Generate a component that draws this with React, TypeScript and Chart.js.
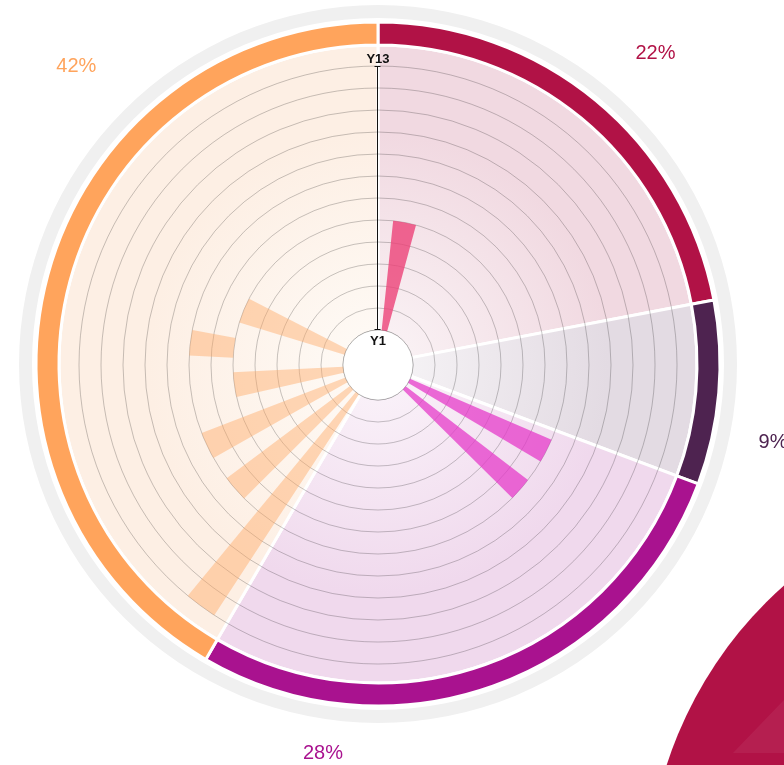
import React, { useEffect, useRef } from 'react';
import { Chart, registerables } from 'chart.js';

Chart.register(...registerables);

// ---------------- data ----------------
// sectors (groups)
const groupShares = [22, 8.7, 27.7, 41.6];
const groupRingColors = ['#b11246', '#4e2350', '#a9128f', '#ffa45c'];
const groupFillColors = ['#f1d9e1', '#e3dbe3', '#f0d9ed', '#fdefe4'];
const groupBarColors = [
  'rgba(236, 62, 117, 0.78)',
  'rgba(110, 40, 110, 0.6)',
  'rgba(228, 52, 200, 0.72)',
  'rgba(255, 164, 92, 0.42)',
];

// radial (year) axis
const yearTicks = [1, 2, 3, 4, 5, 6, 7, 8, 9, 10, 11, 12, 13];
const yearTickLabels = ['Y1', 'Y2', 'Y3', 'Y4', 'Y5', 'Y6', 'Y7', 'Y8', 'Y9', 'Y10', 'Y11', 'Y12', 'Y13'];

// bars: group, angular span (degrees clockwise from top), start / end year
const barGroup = [0, 2, 2, 3, 3, 3, 3, 3, 3];
const barAngleStart = [6, 113.3, 127.5, 213.2, 225.1, 240.5, 257.3, 272.9, 287];
const barAngleEnd = [15.2, 120.7, 134.7, 219.5, 233.2, 248.9, 267.1, 280.7, 297.2];
const barStartYear = [1, 1, 1, 1, 1, 1, 1, 6, 1];
const barEndYear = [6, 8, 8, 13, 8, 8, 6, 8, 6];

// ---------------- layout ----------------
const W = 784;
const H = 765;
const HOLE = 35; // px radius of Y1
const STEP = 22; // px per year
const DRAW_R = 330; // radial scale drawing area
const POLAR_CY = 365;
const RING_CY = 364;
const RING_OUTER = 359;
const RING_INNER = 30;
const R_MIN = yearTicks[0] - HOLE / STEP;
const R_MAX = R_MIN + DRAW_R / STEP;
const GRID_COLOR = 'rgba(0,0,0,0.22)';

type Slice = { angle: number; value: number; color: string; from: number | null };
const slices: Slice[] = [];
{
  let prev = 0;
  barAngleStart.forEach((s, i) => {
    if (s > prev) slices.push({ angle: s - prev, value: R_MIN, color: 'rgba(0,0,0,0)', from: null });
    slices.push({
      angle: barAngleEnd[i] - s,
      value: barEndYear[i],
      color: groupBarColors[barGroup[i]],
      from: barStartYear[i],
    });
    prev = barAngleEnd[i];
  });
  if (prev < 360) slices.push({ angle: 360 - prev, value: R_MIN, color: 'rgba(0,0,0,0)', from: null });
}

function mixWhite(hex: string, t: number) {
  const n = parseInt(hex.slice(1), 16);
  const r = (n >> 16) & 255, g = (n >> 8) & 255, b = n & 255;
  const m = (c: number) => Math.round(c + (255 - c) * t);
  return `rgb(${m(r)},${m(g)},${m(b)})`;
}

const fillGradient = (ctx: any) => {
  const chart = ctx.chart;
  const a = chart.chartArea;
  const base = groupFillColors[ctx.dataIndex] || groupFillColors[0];
  if (!a) return base;
  const cx = (a.left + a.right) / 2;
  const cy = (a.top + a.bottom) / 2;
  const g = chart.ctx.createRadialGradient(cx, cy, 36, cx, cy, 230);
  g.addColorStop(0, mixWhite(base, 0.6));
  g.addColorStop(1, base);
  return g;
};

const decorPlugin = {
  id: 'decor',
  beforeDraw(chart: any) {
    const c = chart.ctx;
    c.save();
    c.fillStyle = '#b11246';
    c.beginPath();
    c.arc(1054, 890, 407, 0, Math.PI * 2);
    c.fill();
    c.fillStyle = 'rgba(255,255,255,0.06)';
    c.beginPath();
    c.moveTo(784, 700);
    c.lineTo(733, 753);
    c.lineTo(784, 753);
    c.closePath();
    c.fill();
    c.restore();
  },
};

const labelOffsets = [
  [277.5, -311],
  [395, 78],
  [-55, 389.5],
  [-301.7, -297.7],
];

const pctLabelPlugin = {
  id: 'pctLabels',
  afterDraw(chart: any) {
    const el = chart.getDatasetMeta(2).data[0];
    if (!el) return;
    const c = chart.ctx;
    c.save();
    c.font = '20px "Liberation Sans", Arial, sans-serif';
    c.textAlign = 'center';
    c.textBaseline = 'middle';
    groupShares.forEach((s, i) => {
      c.fillStyle = groupRingColors[i];
      c.fillText(`${Math.round(s)}%`, el.x + labelOffsets[i][0], el.y + labelOffsets[i][1]);
    });
    c.restore();
  },
};

const floatPlugin = {
  id: 'floatBars',
  afterDatasetUpdate(chart: any, args: any) {
    const scale = chart.scales.r;
    args.meta.data.forEach((el: any, i: number) => {
      const f = slices[i] && slices[i].from;
      if (f != null && f > yearTicks[0]) el.innerRadius = scale.getDistanceFromCenterForValue(f);
    });
  },
};

const axisPlugin = {
  id: 'yearAxis',
  afterDatasetsDraw(chart: any) {
    const s = chart.scales.r;
    const c = chart.ctx;
    const cx = s.xCenter;
    const cy = s.yCenter;
    const first = yearTicks[0];
    const last = yearTicks[yearTicks.length - 1];
    const r1 = s.getDistanceFromCenterForValue(first);
    const rN = s.getDistanceFromCenterForValue(last);
    c.save();
    c.beginPath();
    c.arc(cx, cy, r1, 0, Math.PI * 2);
    c.fillStyle = '#ffffff';
    c.fill();
    c.strokeStyle = GRID_COLOR;
    c.lineWidth = 1;
    c.stroke();

    const x = cx - 0.5;
    c.strokeStyle = '#111';
    c.lineWidth = 1;
    c.beginPath();
    c.moveTo(x, cy - r1);
    c.lineTo(x, cy - rN);
    c.moveTo(x - 3, Math.round(cy - rN) + 0.5);
    c.lineTo(x + 3, Math.round(cy - rN) + 0.5);
    c.moveTo(x - 3, Math.round(cy - r1) - 0.5);
    c.lineTo(x + 3, Math.round(cy - r1) - 0.5);
    c.stroke();

    c.fillStyle = '#111';
    c.font = 'bold 13px "Liberation Sans", Arial, sans-serif';
    c.textAlign = 'center';
    c.textBaseline = 'alphabetic';
    c.fillText(yearTickLabels[yearTickLabels.length - 1], cx, cy - rN - 3);
    c.textBaseline = 'top';
    c.fillText(yearTickLabels[0], cx, cy - r1 + 5);
    c.restore();
  },
};

export default function App() {
  const bgRef = useRef<HTMLCanvasElement | null>(null);
  const fgRef = useRef<HTMLCanvasElement | null>(null);

  useEffect(() => {
    if (!bgRef.current || !fgRef.current) return;
    const ring = new Chart(bgRef.current, {
      type: 'doughnut',
      data: {
        labels: groupShares.map((s) => `${Math.round(s)}%`),
        datasets: [
          { data: [100], backgroundColor: ['#f0f0f0'], borderWidth: 0, weight: 13 } as any,
          { data: [100], backgroundColor: ['rgba(0,0,0,0)'], borderWidth: 0, weight: 4 } as any,
          { data: groupShares, backgroundColor: groupRingColors, borderColor: '#ffffff', borderWidth: 3, weight: 23 } as any,
          { data: groupShares, backgroundColor: fillGradient, borderColor: '#ffffff', borderWidth: 3, weight: 289 } as any,
        ],
      },
      options: {
        responsive: false,
        animation: false,
        events: [],
        radius: RING_OUTER,
        cutout: `${(RING_INNER / RING_OUTER) * 100}%`,
        layout: { padding: { left: 0, top: 0, right: W - 756, bottom: H - 2 * RING_CY } },
        plugins: { legend: { display: false }, tooltip: { enabled: false } },
      } as any,
      plugins: [decorPlugin, pctLabelPlugin],
    });

    const polar = new Chart(fgRef.current, {
      type: 'polarArea',
      data: {
        labels: slices.map((_, i) => `s${i}`),
        datasets: [
          {
            data: slices.map((s) => s.value),
            backgroundColor: slices.map((s) => s.color),
            borderWidth: 0,
            angle: (ctx: any) => slices[ctx.dataIndex].angle,
          } as any,
        ],
      },
      options: {
        responsive: false,
        animation: false,
        events: [],
        layout: {
          padding: {
            left: 48,
            top: POLAR_CY - DRAW_R,
            right: W - 48 - 2 * DRAW_R,
            bottom: H - (POLAR_CY - DRAW_R) - 2 * DRAW_R,
          },
        },
        scales: {
          r: {
            min: R_MIN,
            max: R_MAX,
            startAngle: 0,
            angleLines: { display: false },
            pointLabels: { display: false },
            ticks: { display: false },
            grid: { circular: true, color: GRID_COLOR, lineWidth: 1 },
            afterBuildTicks: (scale: any) => {
              scale.ticks = yearTicks.map((v) => ({ value: v }));
            },
          },
        },
        plugins: { legend: { display: false }, tooltip: { enabled: false } },
      } as any,
      plugins: [floatPlugin, axisPlugin],
    });

    return () => {
      ring.destroy();
      polar.destroy();
    };
  }, []);

  return (
    <div style={{ position: 'fixed', left: 0, top: 0, width: W, height: H, overflow: 'hidden', background: '#fff' }}>
      <canvas ref={bgRef} width={W} height={H} style={{ position: 'absolute', left: 0, top: 0, width: W, height: H }} />
      <canvas ref={fgRef} width={W} height={H} style={{ position: 'absolute', left: 0, top: 0, width: W, height: H }} />
    </div>
  );
}
